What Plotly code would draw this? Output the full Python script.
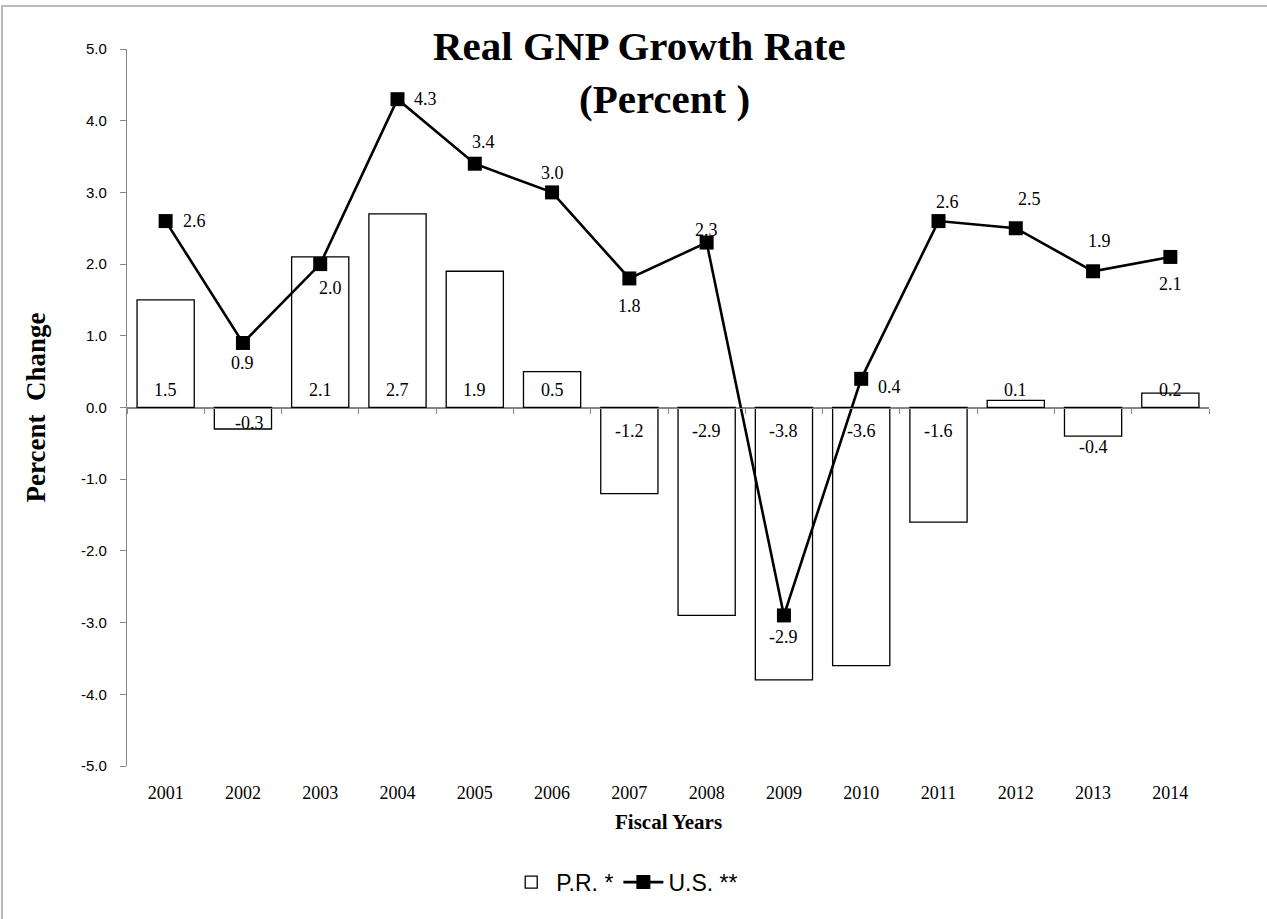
import plotly.graph_objects as go

# ---- data ----
years = ["2001", "2002", "2003", "2004", "2005", "2006", "2007",
         "2008", "2009", "2010", "2011", "2012", "2013", "2014"]
pr_growth = [1.5, -0.3, 2.1, 2.7, 1.9, 0.5, -1.2, -2.9, -3.8, -3.6, -1.6, 0.1, -0.4, 0.2]
us_growth = [2.6, 0.9, 2.0, 4.3, 3.4, 3.0, 1.8, 2.3, -2.9, 0.4, 2.6, 2.5, 1.9, 2.1]
y_ticks = [5.0, 4.0, 3.0, 2.0, 1.0, 0.0, -1.0, -2.0, -3.0, -4.0, -5.0]

# ---- label placement (style, pixels) ----
pr_label_yshift = [18, -15, 18, 18, 18, 18, -23, -23, -23, -23, -23, 18, -39, 18]
pr_label_xshift = [0, 7, 0, 0, 0, 0, 0, 0, 0, 0, 0, 0, 0, 0]
us_label_xshift = [29, 0, 10, 28, 9, 0, 0, 0, 0, 28, 9, 14, 6, 0]
us_label_yshift = [0, -20, -24, 0, 22, 19, -28, 13, -22, -8, 19, 29, 30, -27]

SERIF = "Liberation Serif"
SANS = "Liberation Sans"
AXIS_GREY = "#868686"

fig = go.Figure()

fig.add_trace(go.Bar(
    x=years, y=pr_growth, name="P.R. *",
    marker=dict(color="white", line=dict(color="black", width=1.3)),
    hoverinfo="x+y",
))
fig.add_trace(go.Scatter(
    x=years, y=us_growth, name="U.S. **", mode="lines+markers",
    line=dict(color="black", width=2.6),
    marker=dict(symbol="square", size=14, color="black"),
))
# helper trace so the zero-crossing category axis (x2) is drawn
fig.add_trace(go.Scatter(
    x=[0], y=[None], xaxis="x2", yaxis="y", mode="markers",
    showlegend=False, hoverinfo="skip", marker=dict(opacity=0),
))

annotations = []
for i, v in enumerate(pr_growth):
    annotations.append(dict(
        x=i, y=0, xref="x", yref="y", text=f"{v:.1f}", showarrow=False,
        xshift=pr_label_xshift[i], yshift=pr_label_yshift[i],
        font=dict(family=SERIF, size=18, color="black"),
    ))
for i, v in enumerate(us_growth):
    annotations.append(dict(
        x=i, y=v, xref="x", yref="y", text=f"{v:.1f}", showarrow=False,
        xshift=us_label_xshift[i], yshift=us_label_yshift[i],
        font=dict(family=SERIF, size=18, color="black"),
    ))

# titles
annotations += [
    dict(text="<b>Real GNP Growth Rate</b>", x=0.474, y=1.004, xref="paper", yref="paper",
         showarrow=False, xanchor="center", yanchor="middle",
         font=dict(family=SERIF, size=41, color="black")),
    dict(text="<b>(Percent )</b>", x=0.497, y=0.930, xref="paper", yref="paper",
         showarrow=False, xanchor="center", yanchor="middle",
         font=dict(family=SERIF, size=41, color="black")),
    dict(text="<b>Fiscal Years</b>", x=0.5, y=-0.078, xref="paper", yref="paper",
         showarrow=False, xanchor="center", yanchor="middle",
         font=dict(family=SERIF, size=21, color="black")),
    dict(text="<b>Percent&nbsp; Change</b>", x=-0.085, y=0.5, xref="paper", yref="paper",
         showarrow=False, xanchor="center", yanchor="middle", textangle=-90,
         font=dict(family=SERIF, size=27, color="black")),
]

n = len(years)
boundaries = [i - 0.5 for i in range(n + 1)]

fig.update_layout(
    width=1267, height=919,
    margin=dict(l=127, r=58, t=49, b=153),
    paper_bgcolor="white", plot_bgcolor="white",
    bargap=0.26,
    showlegend=True,
    legend=dict(orientation="h", x=0.46, y=-0.162, xanchor="center", yanchor="middle",
                font=dict(family=SANS, size=23, color="black"),
                itemwidth=40, tracegroupgap=0),
    annotations=annotations,
    xaxis=dict(type="category", categoryorder="array", categoryarray=years,
               range=[-0.5, n - 0.5], showline=False, showgrid=False, zeroline=False,
               ticks="", ticklabelstandoff=14,
               tickfont=dict(family=SERIF, size=18, color="black")),
    xaxis2=dict(overlaying="x", anchor="free", position=0.5, range=[-0.5, n - 0.5],
                showline=True, linecolor=AXIS_GREY, linewidth=1.3,
                ticks="outside", ticklen=5, tickcolor=AXIS_GREY, tickwidth=1.3,
                tickmode="array", tickvals=boundaries, showticklabels=False,
                showgrid=False, zeroline=False, side="bottom"),
    yaxis=dict(range=[-5, 5], tickmode="array", tickvals=y_ticks,
               ticktext=[f"{t:.1f}" for t in y_ticks],
               showline=True, linecolor=AXIS_GREY, linewidth=1.3,
               ticks="outside", ticklen=6, tickcolor=AXIS_GREY, tickwidth=1.3,
               showgrid=False, zeroline=True, zerolinecolor=AXIS_GREY, zerolinewidth=1.3,
               ticklabelstandoff=10,
               tickfont=dict(family=SANS, size=15, color="black")),
    shapes=[dict(type="rect", xref="paper", yref="paper",
                 x0=-0.1155, x1=1.06, y0=-0.23, y1=1.06,
                 line=dict(color="#a6a6a6", width=1.6), fillcolor="rgba(0,0,0,0)",
                 layer="below")],
)

fig.write_html("out.html", config={"displayModeBar": False},
               post_script="document.body.style.margin='0px';")
